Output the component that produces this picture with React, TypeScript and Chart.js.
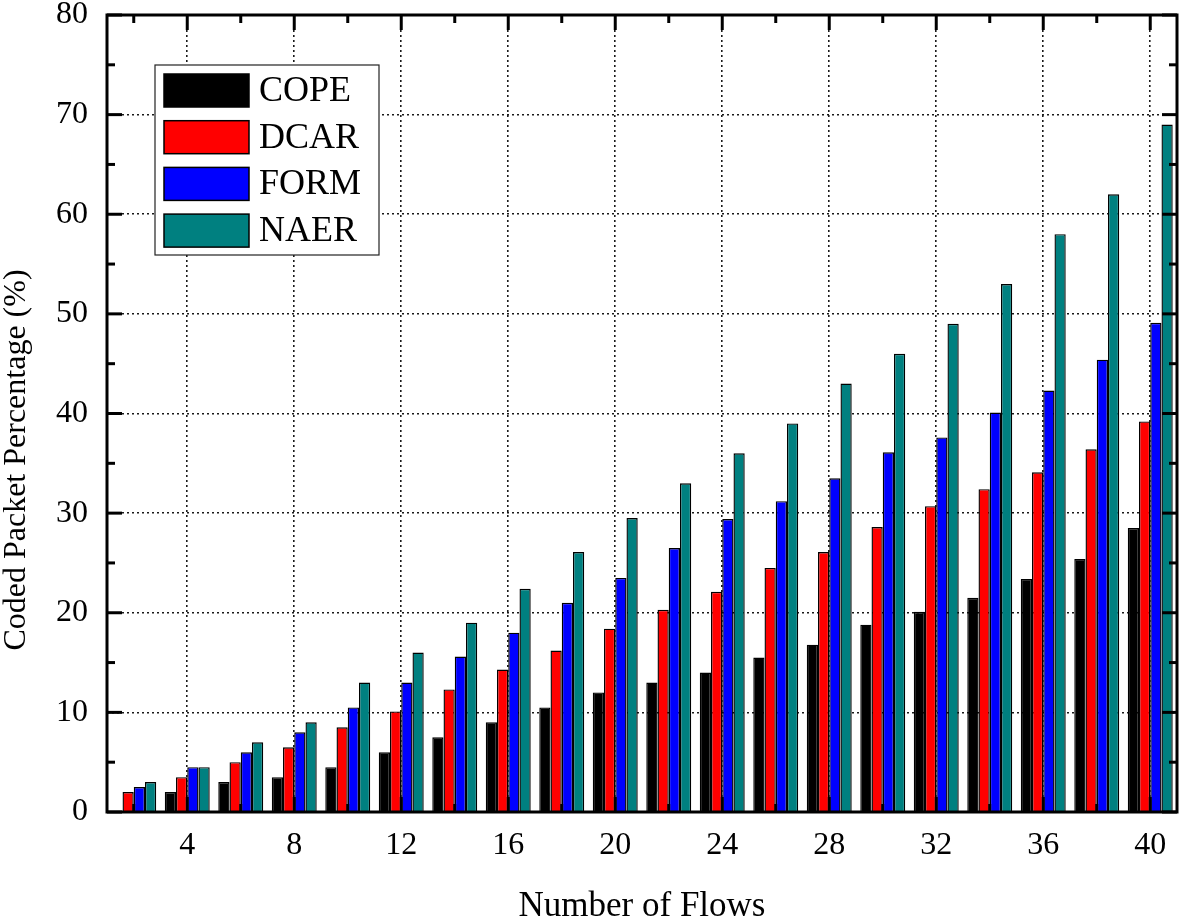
import React, { useEffect, useRef } from "react";
import { Chart, registerables } from "chart.js";

Chart.register(...registerables);

// ---------------- data ----------------
const flows = [2, 4, 6, 8, 10, 12, 14, 16, 18, 20, 22, 24, 26, 28, 30, 32, 34, 36, 38, 40];
const copeValues = [0, 2, 3, 3.5, 4.5, 6, 7.5, 9, 10.5, 12, 13, 14, 15.5, 16.8, 18.8, 20.1, 21.5, 23.4, 25.4, 28.5];
const dcarValues = [2, 3.5, 5, 6.5, 8.5, 10.1, 12.3, 14.3, 16.2, 18.4, 20.3, 22.1, 24.5, 26.1, 28.6, 30.7, 32.4, 34.1, 36.4, 39.2];
const formValues = [2.5, 4.5, 6, 8, 10.5, 13, 15.6, 18, 21, 23.5, 26.5, 29.4, 31.2, 33.5, 36.1, 37.6, 40.1, 42.3, 45.4, 49.1];
const naerValues = [3, 4.5, 7, 9, 13, 16, 19, 22.4, 26.1, 29.5, 33, 36, 39, 43, 46, 49, 53, 58, 62, 69];

const seriesNames = ["COPE", "DCAR", "FORM", "NAER"];
const seriesColors = ["#000000", "#ff0000", "#0000ff", "#008080"];
const seriesValues = [copeValues, dcarValues, formValues, naerValues];

const xTickValues = [4, 8, 12, 16, 20, 24, 28, 32, 36, 40];
const yTickValues = [0, 10, 20, 30, 40, 50, 60, 70, 80];
const xMin = 1;
const xMax = 41;

const xTitle = "Number of Flows";
const yTitle = "Coded Packet Percentage (%)";

const FONT = '"Liberation Serif", "Times New Roman", Times, serif';
const GRID_COLOR = "#1a1a1a";
const CLEAR = "rgba(0,0,0,0)";

// ---------------- plugin: Origin-style frame, ticks, legend, y title ----------------
const originPlugin = {
  id: "originStyle",
  afterDatasetsDraw(chart: any) {
    const { ctx, chartArea: a, scales } = chart;
    const xs = scales.x;
    const ys = scales.y;
    ctx.save();
    ctx.strokeStyle = "#000";
    ctx.lineWidth = 3;
    ctx.lineCap = "butt";
    const line = (x1: number, y1: number, x2: number, y2: number) => {
      ctx.beginPath();
      ctx.moveTo(x1, y1);
      ctx.lineTo(x2, y2);
      ctx.stroke();
    };
    const major = 15;
    const minor = 8;
    // y ticks (left & right, inward)
    yTickValues.forEach((v, i) => {
      const y = ys.getPixelForValue(v);
      line(a.left, y, a.left + major, y);
      line(a.right, y, a.right - major, y);
      if (i < yTickValues.length - 1) {
        const ym = ys.getPixelForValue((v + yTickValues[i + 1]) / 2);
        line(a.left, ym, a.left + minor, ym);
        line(a.right, ym, a.right - minor, ym);
      }
    });
    // x ticks (top & bottom, inward)
    xTickValues.forEach((v, i) => {
      const x = xs.getPixelForValue(v);
      line(x, a.top, x, a.top + major);
      line(x, a.bottom, x, a.bottom - major);
      const prev = i === 0 ? v - (xTickValues[1] - xTickValues[0]) : xTickValues[i - 1];
      const xm = xs.getPixelForValue((v + prev) / 2);
      line(xm, a.top, xm, a.top + minor);
      line(xm, a.bottom, xm, a.bottom - minor);
    });
    // frame
    ctx.strokeRect(a.left, a.top, a.right - a.left, a.bottom - a.top);

    // legend box
    const bx = a.left + 48;
    const by = a.top + 50;
    const bw = 224;
    const bh = 190;
    ctx.fillStyle = "#ffffff";
    ctx.fillRect(bx, by, bw, bh);
    ctx.lineWidth = 1.2;
    ctx.strokeStyle = "#222";
    ctx.strokeRect(bx, by, bw, bh);
    ctx.font = `36px ${FONT}`;
    ctx.textBaseline = "middle";
    ctx.textAlign = "left";
    seriesNames.forEach((name, i) => {
      const sy = by + 9 + i * 46.7;
      ctx.fillStyle = seriesColors[i];
      ctx.fillRect(bx + 9, sy, 85, 33);
      ctx.lineWidth = 1.5;
      ctx.strokeStyle = "#000";
      ctx.strokeRect(bx + 9, sy, 85, 33);
      ctx.fillStyle = "#000";
      ctx.fillText(name, bx + 104, sy + 17.5);
    });
    ctx.restore();
  },
  afterDraw(chart: any) {
    const { ctx } = chart;
    ctx.save();
    ctx.translate(25, 460);
    ctx.rotate(-Math.PI / 2);
    ctx.font = `32px ${FONT}`;
    ctx.fillStyle = "#000";
    ctx.textAlign = "center";
    ctx.textBaseline = "alphabetic";
    ctx.fillText(yTitle, 0, 0);
    ctx.restore();
  },
};

export default function App() {
  const canvasRef = useRef<HTMLCanvasElement | null>(null);

  useEffect(() => {
    const canvas = canvasRef.current;
    if (!canvas) return;
    const datasets = seriesNames.map((name, i) => ({
      label: name,
      data: flows.map((f, j) => ({ x: f, y: seriesValues[i][j] })),
      backgroundColor: seriesColors[i],
      borderColor: "#000000",
      borderWidth: 1.4,
      borderSkipped: "start" as const,
      categoryPercentage: 0.84,
      barPercentage: 1.0,
    }));

    const chart = new Chart(canvas, {
      type: "bar",
      data: { datasets },
      plugins: [originPlugin],
      options: {
        animation: false,
        responsive: false,
        devicePixelRatio: 1,
        layout: { padding: { left: 0, right: 4, top: 15, bottom: 0 } },
        plugins: {
          legend: { display: false },
          tooltip: { enabled: false },
        },
        scales: {
          x: {
            type: "linear",
            min: xMin,
            max: xMax,
            offset: false,
            afterBuildTicks: (axis: any) => {
              axis.ticks = xTickValues.map((v) => ({ value: v }));
            },
            afterFit: (scale: any) => {
              scale.height = 108;
            },
            grid: {
              offset: false,
              drawTicks: true,
              tickLength: 14,
              tickColor: CLEAR,
              color: GRID_COLOR,
              lineWidth: 1.6,
            },
            border: { display: false, dash: [2, 3] },
            ticks: {
              color: "#000",
              padding: 0,
              maxRotation: 0,
              autoSkip: false,
              font: { family: FONT, size: 32, lineHeight: 1.2 },
            },
            title: {
              display: true,
              text: xTitle,
              color: "#000",
              padding: { top: 0, bottom: 0 },
              font: { family: FONT, size: 35, lineHeight: 0.75 },
            },
          },
          y: {
            type: "linear",
            min: 0,
            max: 80,
            afterBuildTicks: (axis: any) => {
              axis.ticks = yTickValues.map((v) => ({ value: v }));
            },
            afterFit: (scale: any) => {
              scale.width = 107;
            },
            grid: {
              drawTicks: true,
              tickLength: 19,
              tickColor: CLEAR,
              lineWidth: 1.6,
              color: (c: any) =>
                c.tick && (c.tick.value === yTickValues[0] || c.tick.value === yTickValues[yTickValues.length - 1])
                  ? CLEAR
                  : GRID_COLOR,
            },
            border: { display: false, dash: [2, 3] },
            ticks: {
              color: "#000",
              padding: 0,
              font: { family: FONT, size: 32, lineHeight: 0.9 },
            },
          },
        },
      } as any,
    });

    return () => {
      chart.destroy();
    };
  }, []);

  return (
    <div style={{ position: "absolute", left: 0, top: 0, width: 1181, height: 920, background: "#fff" }}>
      <canvas ref={canvasRef} width={1181} height={920} style={{ display: "block" }} />
    </div>
  );
}
